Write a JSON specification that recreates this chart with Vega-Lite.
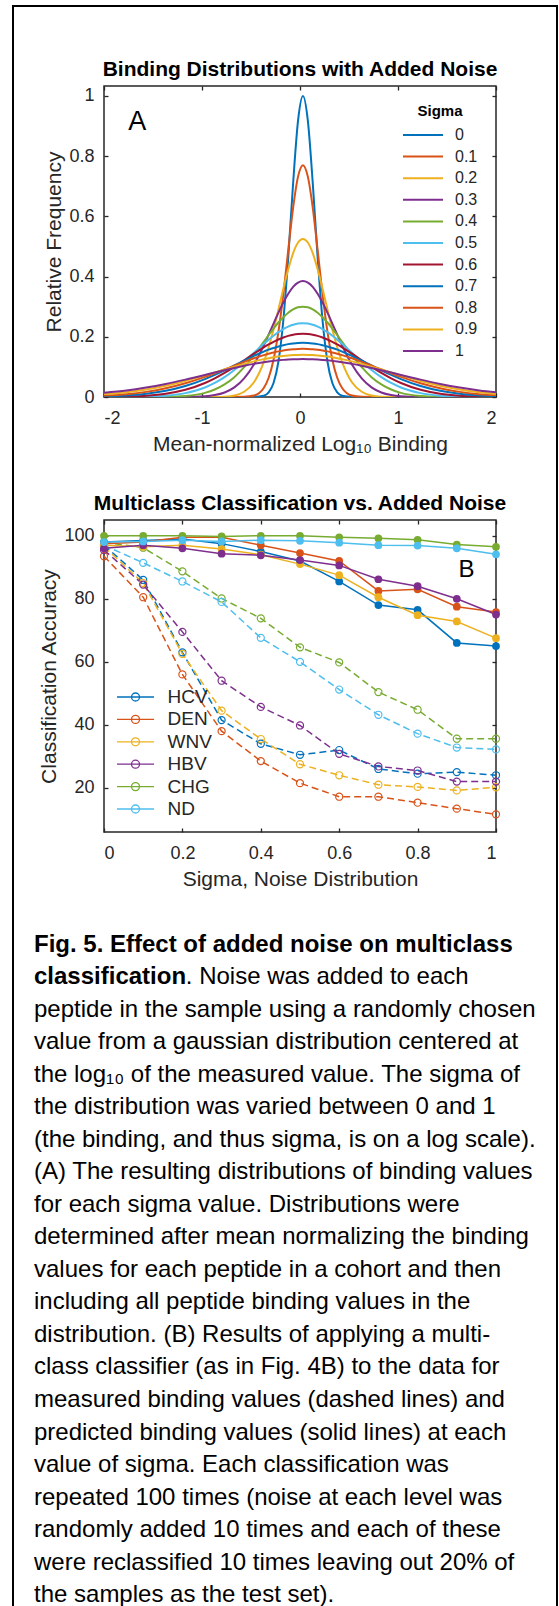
{
"$schema": "https://vega.github.io/schema/vega-lite/v6.json",
"background": "white",
"padding": {"left": 12, "top": 4, "right": 0, "bottom": 0},
"bounds": "flush",
"spacing": 123,
"resolve": {"scale": {"color": "independent"}, "legend": {"color": "independent"}},
"config": {
  "font": "Liberation Sans",
  "view": {"stroke": "#262626", "strokeWidth": 1.5},
  "axis": {"grid": false, "domain": false, "tickColor": "#262626", "tickSize": -4, "tickWidth": 1.3, "labelFont": "Liberation Sans", "labelFontSize": 18, "labelColor": "#262626", "titleFont": "Liberation Sans", "titleFontSize": 21, "titleFontWeight": "normal", "titleColor": "#262626"},
  "axisX": {"labelPadding": 16, "titlePadding": 6},
  "axisY": {"labelPadding": 14, "titlePadding": 4},
  "title": {"font": "Liberation Sans", "fontSize": 21, "fontWeight": "bold", "color": "#000000", "offset": 5},
  "legend": {"labelFont": "Liberation Sans", "titleFont": "Liberation Sans", "labelColor": "#262626", "titleColor": "#000000"}
},
"vconcat": [
{
  "width": 392, "height": 311,
  "title": "Binding Distributions with Added Noise",
  "data": {"values": [
    {"x":-2,"s0":0,"s1":0,"s2":0,"s3":0,"s4":0,"s5":0,"s6":0.0005,"s7":0.0021,"s8":0.0048,"s9":0.0096,"s10":0.0144},
    {"x":-1.77,"s0":0,"s1":0,"s2":0,"s3":0,"s4":0,"s5":0.0003,"s6":0.0016,"s7":0.005,"s8":0.0094,"s9":0.016,"s10":0.0217},
    {"x":-1.57,"s0":0,"s1":0,"s2":0,"s3":0,"s4":0.0001,"s5":0.0013,"s6":0.0044,"s7":0.0106,"s8":0.017,"s9":0.0252,"s10":0.0314},
    {"x":-1.37,"s0":0,"s1":0,"s2":0,"s3":0,"s4":0.0007,"s5":0.0044,"s6":0.0109,"s7":0.0206,"s8":0.0288,"s9":0.0377,"s10":0.0435},
    {"x":-1.17,"s0":0,"s1":0,"s2":0,"s3":0.0003,"s4":0.0036,"s5":0.0128,"s6":0.024,"s7":0.0365,"s8":0.0454,"s9":0.0534,"s10":0.0577},
    {"x":-0.97,"s0":0,"s1":0,"s2":0,"s3":0.0024,"s4":0.0138,"s5":0.0316,"s6":0.0465,"s7":0.0595,"s8":0.0667,"s9":0.0717,"s10":0.0732},
    {"x":-0.87,"s0":0,"s1":0,"s2":0.0002,"s3":0.0063,"s4":0.025,"s5":0.0466,"s6":0.062,"s7":0.0734,"s8":0.0788,"s9":0.0814,"s10":0.0812},
    {"x":-0.77,"s0":0,"s1":0,"s2":0.0012,"s3":0.015,"s4":0.042,"s5":0.066,"s6":0.08,"s7":0.0886,"s8":0.0914,"s9":0.0912,"s10":0.089},
    {"x":-0.67,"s0":0,"s1":0,"s2":0.0051,"s3":0.032,"s4":0.066,"s5":0.0898,"s6":0.1003,"s7":0.1046,"s8":0.1042,"s9":0.1008,"s10":0.0966},
    {"x":-0.57,"s0":0,"s1":0.0005,"s2":0.0175,"s3":0.062,"s4":0.099,"s5":0.1172,"s6":0.1221,"s7":0.1208,"s8":0.1168,"s9":0.11,"s10":0.1036},
    {"x":-0.47,"s0":0.0002,"s1":0.0048,"s2":0.049,"s3":0.108,"s4":0.139,"s5":0.1468,"s6":0.144,"s7":0.1365,"s8":0.1286,"s9":0.1184,"s10":0.11},
    {"x":-0.37,"s0":0.0042,"s1":0.03,"s2":0.116,"s3":0.171,"s4":0.183,"s5":0.1765,"s6":0.165,"s7":0.1508,"s8":0.1391,"s9":0.1258,"s10":0.1155},
    {"x":-0.32,"s0":0.0152,"s1":0.064,"s2":0.165,"s3":0.207,"s4":0.206,"s5":0.1906,"s6":0.1746,"s7":0.1572,"s8":0.1437,"s9":0.129,"s10":0.1179},
    {"x":-0.27,"s0":0.0463,"s1":0.124,"s2":0.224,"s3":0.244,"s4":0.227,"s5":0.2037,"s6":0.1834,"s7":0.1629,"s8":0.1479,"s9":0.1318,"s10":0.12},
    {"x":-0.22,"s0":0.118,"s1":0.217,"s2":0.291,"s3":0.28,"s4":0.2475,"s5":0.2156,"s6":0.1911,"s7":0.168,"s8":0.1515,"s9":0.1343,"s10":0.1218},
    {"x":-0.17,"s0":0.255,"s1":0.342,"s2":0.36,"s3":0.314,"s4":0.265,"s5":0.2257,"s6":0.1977,"s7":0.1722,"s8":0.1545,"s9":0.1363,"s10":0.1233},
    {"x":-0.12,"s0":0.4636,"s1":0.488,"s2":0.424,"s3":0.343,"s4":0.28,"s5":0.234,"s6":0.203,"s7":0.1756,"s8":0.1569,"s9":0.1379,"s10":0.1245},
    {"x":-0.07,"s0":0.711,"s1":0.629,"s2":0.478,"s3":0.366,"s4":0.291,"s5":0.24,"s6":0.2069,"s7":0.178,"s8":0.1586,"s9":0.1391,"s10":0.1253},
    {"x":-0.02,"s0":0.918,"s1":0.732,"s2":0.513,"s3":0.38,"s4":0.298,"s5":0.244,"s6":0.2092,"s7":0.1795,"s8":0.1596,"s9":0.1398,"s10":0.1258},
    {"x":0.03,"s0":1,"s1":0.77,"s2":0.525,"s3":0.385,"s4":0.3,"s5":0.245,"s6":0.21,"s7":0.18,"s8":0.16,"s9":0.14,"s10":0.126},
    {"x":0.08,"s0":0.918,"s1":0.732,"s2":0.513,"s3":0.38,"s4":0.298,"s5":0.244,"s6":0.2092,"s7":0.1795,"s8":0.1596,"s9":0.1398,"s10":0.1258},
    {"x":0.13,"s0":0.711,"s1":0.629,"s2":0.478,"s3":0.366,"s4":0.291,"s5":0.24,"s6":0.2069,"s7":0.178,"s8":0.1586,"s9":0.1391,"s10":0.1253},
    {"x":0.18,"s0":0.4636,"s1":0.488,"s2":0.424,"s3":0.343,"s4":0.28,"s5":0.234,"s6":0.203,"s7":0.1756,"s8":0.1569,"s9":0.1379,"s10":0.1245},
    {"x":0.23,"s0":0.255,"s1":0.342,"s2":0.36,"s3":0.314,"s4":0.265,"s5":0.2257,"s6":0.1977,"s7":0.1722,"s8":0.1545,"s9":0.1363,"s10":0.1233},
    {"x":0.28,"s0":0.118,"s1":0.217,"s2":0.291,"s3":0.28,"s4":0.2475,"s5":0.2156,"s6":0.1911,"s7":0.168,"s8":0.1515,"s9":0.1343,"s10":0.1218},
    {"x":0.33,"s0":0.0463,"s1":0.124,"s2":0.224,"s3":0.244,"s4":0.227,"s5":0.2037,"s6":0.1834,"s7":0.1629,"s8":0.1479,"s9":0.1318,"s10":0.12},
    {"x":0.38,"s0":0.0152,"s1":0.064,"s2":0.165,"s3":0.207,"s4":0.206,"s5":0.1906,"s6":0.1746,"s7":0.1572,"s8":0.1437,"s9":0.129,"s10":0.1179},
    {"x":0.43,"s0":0.0042,"s1":0.03,"s2":0.116,"s3":0.171,"s4":0.183,"s5":0.1765,"s6":0.165,"s7":0.1508,"s8":0.1391,"s9":0.1258,"s10":0.1155},
    {"x":0.53,"s0":0.0002,"s1":0.0048,"s2":0.049,"s3":0.108,"s4":0.139,"s5":0.1468,"s6":0.144,"s7":0.1365,"s8":0.1286,"s9":0.1184,"s10":0.11},
    {"x":0.63,"s0":0,"s1":0.0005,"s2":0.0175,"s3":0.062,"s4":0.099,"s5":0.1172,"s6":0.1221,"s7":0.1208,"s8":0.1168,"s9":0.11,"s10":0.1036},
    {"x":0.73,"s0":0,"s1":0,"s2":0.0051,"s3":0.032,"s4":0.066,"s5":0.0898,"s6":0.1003,"s7":0.1046,"s8":0.1042,"s9":0.1008,"s10":0.0966},
    {"x":0.83,"s0":0,"s1":0,"s2":0.0012,"s3":0.015,"s4":0.042,"s5":0.066,"s6":0.08,"s7":0.0886,"s8":0.0914,"s9":0.0912,"s10":0.089},
    {"x":0.93,"s0":0,"s1":0,"s2":0.0002,"s3":0.0063,"s4":0.025,"s5":0.0466,"s6":0.062,"s7":0.0734,"s8":0.0788,"s9":0.0814,"s10":0.0812},
    {"x":1.03,"s0":0,"s1":0,"s2":0,"s3":0.0024,"s4":0.0138,"s5":0.0316,"s6":0.0465,"s7":0.0595,"s8":0.0667,"s9":0.0717,"s10":0.0732},
    {"x":1.23,"s0":0,"s1":0,"s2":0,"s3":0.0003,"s4":0.0036,"s5":0.0128,"s6":0.024,"s7":0.0365,"s8":0.0454,"s9":0.0534,"s10":0.0577},
    {"x":1.43,"s0":0,"s1":0,"s2":0,"s3":0,"s4":0.0007,"s5":0.0044,"s6":0.0109,"s7":0.0206,"s8":0.0288,"s9":0.0377,"s10":0.0435},
    {"x":1.63,"s0":0,"s1":0,"s2":0,"s3":0,"s4":0.0001,"s5":0.0013,"s6":0.0044,"s7":0.0106,"s8":0.017,"s9":0.0252,"s10":0.0314},
    {"x":1.83,"s0":0,"s1":0,"s2":0,"s3":0,"s4":0,"s5":0.0003,"s6":0.0016,"s7":0.005,"s8":0.0094,"s9":0.016,"s10":0.0217},
    {"x":2,"s0":0,"s1":0,"s2":0,"s3":0,"s4":0,"s5":0,"s6":0.0006,"s7":0.0024,"s8":0.0054,"s9":0.0104,"s10":0.0154}
  ]},
  "transform": [{"fold": ["s0","s1","s2","s3","s4","s5","s6","s7","s8","s9","s10"], "as": ["sigma","y"]}],
  "layer": [
    {
      "mark": {"type": "line", "strokeWidth": 2, "interpolate": "monotone", "clip": true},
      "encoding": {
        "x": {"field": "x", "type": "quantitative", "scale": {"domain": [-2, 2], "nice": false, "zero": false},
              "axis": {"values": [-2, -1, 0, 1, 2], "labelExpr": "'' + datum.value", "title": "Mean-normalized Log₁₀ Binding"}},
        "y": {"field": "y", "type": "quantitative", "scale": {"domain": [0, 1.033], "nice": false, "zero": false},
              "axis": {"values": [0, 0.2, 0.4, 0.6, 0.8, 1], "labelExpr": "'' + datum.value", "title": "Relative Frequency"}},
        "color": {"field": "sigma", "type": "nominal",
          "scale": {"domain": ["s0","s1","s2","s3","s4","s5","s6","s7","s8","s9","s10"],
                    "range": ["#0072BD","#D95319","#EDB120","#7E2F8E","#77AC30","#4DBEEE","#A2142F","#0072BD","#D95319","#EDB120","#7E2F8E"]},
          "legend": {"orient": "top-right", "offset": 18, "padding": 0, "title": "Sigma", "titleFontSize": 15, "titleFontWeight": "bold", "titleAnchor": "middle", "titlePadding": 5,
                     "labelFontSize": 16, "symbolType": "M-2,0H2", "symbolSize": 400, "symbolStrokeWidth": 2, "symbolOffset": 9, "labelOffset": 21, "rowPadding": 2.6,
                     "labelExpr": "datum.label == 's0' ? '\u2007\u20080' : datum.label == 's10' ? '\u2007\u20081' : '0.' + substring(datum.label, 1)"}}
      }
    },
    {
      "mark": {"type": "point", "opacity": 0},
      "encoding": {
        "x": {"field": "x", "type": "quantitative", "axis": {"orient": "top", "values": [-2, -1, 0, 1, 2], "labels": false, "title": null}},
        "y": {"field": "y", "type": "quantitative", "axis": {"orient": "right", "values": [0, 0.2, 0.4, 0.6, 0.8, 1], "labels": false, "title": null}}
      }
    },
    {
      "data": {"values": [{"lab": "A"}]},
      "mark": {"type": "text", "fontSize": 27, "color": "#000000", "align": "center", "baseline": "middle"},
      "encoding": {
        "x": {"datum": -1.66, "type": "quantitative", "axis": null},
        "y": {"datum": 0.913, "type": "quantitative", "axis": null},
        "text": {"field": "lab"}
      }
    }
  ],
  "resolve": {"axis": {"x": "independent", "y": "independent"}}
},
{
  "width": 392, "height": 312,
  "title": "Multiclass Classification vs. Added Noise",
  "data": {"values": [
    {"v":"HCV","m":"p","x":0,"y":98},{"v":"HCV","m":"p","x":0.1,"y":98.5},{"v":"HCV","m":"p","x":0.2,"y":99},{"v":"HCV","m":"p","x":0.3,"y":97.5},{"v":"HCV","m":"p","x":0.4,"y":95},{"v":"HCV","m":"p","x":0.5,"y":92},{"v":"HCV","m":"p","x":0.6,"y":85.5},{"v":"HCV","m":"p","x":0.7,"y":78},{"v":"HCV","m":"p","x":0.8,"y":76.5},{"v":"HCV","m":"p","x":0.9,"y":66},{"v":"HCV","m":"p","x":1,"y":65},
    {"v":"DEN","m":"p","x":0,"y":97.5},{"v":"DEN","m":"p","x":0.1,"y":98},{"v":"DEN","m":"p","x":0.2,"y":99.5},{"v":"DEN","m":"p","x":0.3,"y":99.5},{"v":"DEN","m":"p","x":0.4,"y":97},{"v":"DEN","m":"p","x":0.5,"y":94.5},{"v":"DEN","m":"p","x":0.6,"y":92},{"v":"DEN","m":"p","x":0.7,"y":82.5},{"v":"DEN","m":"p","x":0.8,"y":83},{"v":"DEN","m":"p","x":0.9,"y":77.5},{"v":"DEN","m":"p","x":1,"y":75.8},
    {"v":"WNV","m":"p","x":0,"y":97},{"v":"WNV","m":"p","x":0.1,"y":96.5},{"v":"WNV","m":"p","x":0.2,"y":97},{"v":"WNV","m":"p","x":0.3,"y":95.8},{"v":"WNV","m":"p","x":0.4,"y":94},{"v":"WNV","m":"p","x":0.5,"y":91},{"v":"WNV","m":"p","x":0.6,"y":87.5},{"v":"WNV","m":"p","x":0.7,"y":80.5},{"v":"WNV","m":"p","x":0.8,"y":74.8},{"v":"WNV","m":"p","x":0.9,"y":72.8},{"v":"WNV","m":"p","x":1,"y":67.5},
    {"v":"HBV","m":"p","x":0,"y":96},{"v":"HBV","m":"p","x":0.1,"y":97},{"v":"HBV","m":"p","x":0.2,"y":96},{"v":"HBV","m":"p","x":0.3,"y":94.3},{"v":"HBV","m":"p","x":0.4,"y":93.8},{"v":"HBV","m":"p","x":0.5,"y":92.3},{"v":"HBV","m":"p","x":0.6,"y":90.6},{"v":"HBV","m":"p","x":0.7,"y":86.2},{"v":"HBV","m":"p","x":0.8,"y":84},{"v":"HBV","m":"p","x":0.9,"y":80},{"v":"HBV","m":"p","x":1,"y":75},
    {"v":"CHG","m":"p","x":0,"y":100},{"v":"CHG","m":"p","x":0.1,"y":100},{"v":"CHG","m":"p","x":0.2,"y":100},{"v":"CHG","m":"p","x":0.3,"y":99.8},{"v":"CHG","m":"p","x":0.4,"y":100},{"v":"CHG","m":"p","x":0.5,"y":100},{"v":"CHG","m":"p","x":0.6,"y":99.5},{"v":"CHG","m":"p","x":0.7,"y":99.2},{"v":"CHG","m":"p","x":0.8,"y":98.7},{"v":"CHG","m":"p","x":0.9,"y":97.2},{"v":"CHG","m":"p","x":1,"y":96.5},
    {"v":"ND","m":"p","x":0,"y":98},{"v":"ND","m":"p","x":0.1,"y":98.2},{"v":"ND","m":"p","x":0.2,"y":98.6},{"v":"ND","m":"p","x":0.3,"y":98.2},{"v":"ND","m":"p","x":0.4,"y":98.6},{"v":"ND","m":"p","x":0.5,"y":98.4},{"v":"ND","m":"p","x":0.6,"y":97.8},{"v":"ND","m":"p","x":0.7,"y":97},{"v":"ND","m":"p","x":0.8,"y":96.9},{"v":"ND","m":"p","x":0.9,"y":96},{"v":"ND","m":"p","x":1,"y":94.1},
    {"v":"HCV","m":"d","x":0,"y":97},{"v":"HCV","m":"d","x":0.1,"y":86},{"v":"HCV","m":"d","x":0.2,"y":63},{"v":"HCV","m":"d","x":0.3,"y":41.5},{"v":"HCV","m":"d","x":0.4,"y":34},{"v":"HCV","m":"d","x":0.5,"y":30.5},{"v":"HCV","m":"d","x":0.6,"y":32},{"v":"HCV","m":"d","x":0.7,"y":26},{"v":"HCV","m":"d","x":0.8,"y":24.5},{"v":"HCV","m":"d","x":0.9,"y":25},{"v":"HCV","m":"d","x":1,"y":24},
    {"v":"DEN","m":"d","x":0,"y":93.5},{"v":"DEN","m":"d","x":0.1,"y":80.5},{"v":"DEN","m":"d","x":0.2,"y":56},{"v":"DEN","m":"d","x":0.3,"y":38},{"v":"DEN","m":"d","x":0.4,"y":28.5},{"v":"DEN","m":"d","x":0.5,"y":21.5},{"v":"DEN","m":"d","x":0.6,"y":17.2},{"v":"DEN","m":"d","x":0.7,"y":17.2},{"v":"DEN","m":"d","x":0.8,"y":15.3},{"v":"DEN","m":"d","x":0.9,"y":13.4},{"v":"DEN","m":"d","x":1,"y":11.6},
    {"v":"WNV","m":"d","x":0,"y":96.5},{"v":"WNV","m":"d","x":0.1,"y":85},{"v":"WNV","m":"d","x":0.2,"y":62.5},{"v":"WNV","m":"d","x":0.3,"y":44.5},{"v":"WNV","m":"d","x":0.4,"y":35.5},{"v":"WNV","m":"d","x":0.5,"y":27.5},{"v":"WNV","m":"d","x":0.6,"y":24},{"v":"WNV","m":"d","x":0.7,"y":21},{"v":"WNV","m":"d","x":0.8,"y":20.3},{"v":"WNV","m":"d","x":0.9,"y":19.2},{"v":"WNV","m":"d","x":1,"y":20.2},
    {"v":"HBV","m":"d","x":0,"y":95.5},{"v":"HBV","m":"d","x":0.1,"y":84.5},{"v":"HBV","m":"d","x":0.2,"y":69.5},{"v":"HBV","m":"d","x":0.3,"y":54},{"v":"HBV","m":"d","x":0.4,"y":45.7},{"v":"HBV","m":"d","x":0.5,"y":39.8},{"v":"HBV","m":"d","x":0.6,"y":30.8},{"v":"HBV","m":"d","x":0.7,"y":26.8},{"v":"HBV","m":"d","x":0.8,"y":25.5},{"v":"HBV","m":"d","x":0.9,"y":22},{"v":"HBV","m":"d","x":1,"y":22},
    {"v":"CHG","m":"d","x":0,"y":98},{"v":"CHG","m":"d","x":0.1,"y":96.2},{"v":"CHG","m":"d","x":0.2,"y":88.7},{"v":"CHG","m":"d","x":0.3,"y":80.1},{"v":"CHG","m":"d","x":0.4,"y":73.8},{"v":"CHG","m":"d","x":0.5,"y":64.6},{"v":"CHG","m":"d","x":0.6,"y":59.8},{"v":"CHG","m":"d","x":0.7,"y":50.4},{"v":"CHG","m":"d","x":0.8,"y":44.8},{"v":"CHG","m":"d","x":0.9,"y":35.6},{"v":"CHG","m":"d","x":1,"y":35.6},
    {"v":"ND","m":"d","x":0,"y":97},{"v":"ND","m":"d","x":0.1,"y":91.4},{"v":"ND","m":"d","x":0.2,"y":85.5},{"v":"ND","m":"d","x":0.3,"y":79},{"v":"ND","m":"d","x":0.4,"y":67.6},{"v":"ND","m":"d","x":0.5,"y":60},{"v":"ND","m":"d","x":0.6,"y":51.2},{"v":"ND","m":"d","x":0.7,"y":43.2},{"v":"ND","m":"d","x":0.8,"y":37.2},{"v":"ND","m":"d","x":0.9,"y":32.8},{"v":"ND","m":"d","x":1,"y":32.2}
  ]},
  "layer": [
    {
      "transform": [{"filter": "datum.m == 'd'"}],
      "mark": {"type": "line", "strokeWidth": 1.5, "strokeDash": [7, 4]},
      "encoding": {
        "x": {"field": "x", "type": "quantitative", "scale": {"domain": [0, 1], "nice": false, "zero": false},
              "axis": {"values": [0, 0.2, 0.4, 0.6, 0.8, 1], "labelExpr": "'' + datum.value", "title": "Sigma, Noise Distribution"}},
        "y": {"field": "y", "type": "quantitative", "scale": {"domain": [6, 105], "nice": false, "zero": false},
              "axis": {"values": [20, 40, 60, 80, 100], "labelExpr": "'' + datum.value", "title": "Classification Accuracy"}},
        "stroke": {"field": "v", "type": "nominal",
          "scale": {"domain": ["HCV","DEN","WNV","HBV","CHG","ND"], "range": ["#0072BD","#D95319","#EDB120","#7E2F8E","#77AC30","#4DBEEE"]},
          "legend": null}
      }
    },
    {
      "transform": [{"filter": "datum.m == 'd'"}],
      "mark": {"type": "point", "filled": false, "size": 50, "strokeWidth": 1.2, "opacity": 1},
      "encoding": {
        "x": {"field": "x", "type": "quantitative", "axis": null},
        "y": {"field": "y", "type": "quantitative", "axis": null},
        "stroke": {"field": "v", "type": "nominal", "legend": null}
      }
    },
    {
      "transform": [{"filter": "datum.m == 'p'"}],
      "mark": {"type": "line", "strokeWidth": 1.5},
      "encoding": {
        "x": {"field": "x", "type": "quantitative", "axis": null},
        "y": {"field": "y", "type": "quantitative", "axis": null},
        "color": {"field": "v", "type": "nominal",
          "scale": {"domain": ["HCV","DEN","WNV","HBV","CHG","ND"], "range": ["#0072BD","#D95319","#EDB120","#7E2F8E","#77AC30","#4DBEEE"]},
          "legend": {"orient": "bottom-left", "offset": 13, "padding": 0, "title": null, "labelFontSize": 19,
                     "symbolType": "M-1.85,0H1.85M0.4,0A0.4,0.4,0,1,1,-0.4,0A0.4,0.4,0,1,1,0.4,0",
                     "symbolSize": 400, "symbolStrokeWidth": 1.3, "symbolOffset": 7.5, "labelOffset": 21, "rowPadding": 1.4, "symbolFillColor": "transparent"}}
      }
    },
    {
      "transform": [{"filter": "datum.m == 'p'"}],
      "mark": {"type": "point", "filled": true, "size": 60, "opacity": 1, "strokeWidth": 0},
      "encoding": {
        "x": {"field": "x", "type": "quantitative", "axis": null},
        "y": {"field": "y", "type": "quantitative", "axis": null},
        "fill": {"field": "v", "type": "nominal",
          "scale": {"domain": ["HCV","DEN","WNV","HBV","CHG","ND"], "range": ["#0072BD","#D95319","#EDB120","#7E2F8E","#77AC30","#4DBEEE"]},
          "legend": null}
      }
    },
    {
      "mark": {"type": "point", "opacity": 0},
      "encoding": {
        "x": {"field": "x", "type": "quantitative", "axis": {"orient": "top", "values": [0, 0.2, 0.4, 0.6, 0.8, 1], "labels": false, "title": null}},
        "y": {"field": "y", "type": "quantitative", "axis": {"orient": "right", "values": [20, 40, 60, 80, 100], "labels": false, "title": null}}
      }
    },
    {
      "data": {"values": [{"lab": "B"}]},
      "mark": {"type": "text", "fontSize": 24, "color": "#000000", "align": "center", "baseline": "middle"},
      "encoding": {
        "x": {"datum": 0.925, "type": "quantitative", "axis": null},
        "y": {"datum": 89.1, "type": "quantitative", "axis": null},
        "text": {"field": "lab"}
      }
    }
  ],
  "resolve": {"axis": {"x": "independent", "y": "independent"}}
},
{
  "width": 392, "height": 640,
  "view": {"stroke": null},
  "data": {"values": [
    {"n": 1, "w": "b", "t": "Fig. 5. Effect of added noise on multiclass"},
    {"n": 2, "w": "b", "t": "classification"},
    {"n": 2, "w": "c", "t": ". Noise was added to each"},
    {"n": 3, "w": "r", "t": "peptide in the sample using a randomly chosen"},
    {"n": 4, "w": "r", "t": "value from a gaussian distribution centered at"},
    {"n": 5, "w": "r", "t": "the log₁₀ of the measured value. The sigma of"},
    {"n": 6, "w": "r", "t": "the distribution was varied between 0 and 1"},
    {"n": 7, "w": "r", "t": "(the binding, and thus sigma, is on a log scale)."},
    {"n": 8, "w": "r", "t": "(A) The resulting distributions of binding values"},
    {"n": 9, "w": "r", "t": "for each sigma value. Distributions were"},
    {"n": 10, "w": "r", "t": "determined after mean normalizing the binding"},
    {"n": 11, "w": "r", "t": "values for each peptide in a cohort and then"},
    {"n": 12, "w": "r", "t": "including all peptide binding values in the"},
    {"n": 13, "w": "r", "t": "distribution. (B) Results of applying a multi-"},
    {"n": 14, "w": "r", "t": "class classifier (as in Fig. 4B) to the data for"},
    {"n": 15, "w": "r", "t": "measured binding values (dashed lines) and"},
    {"n": 16, "w": "r", "t": "predicted binding values (solid lines) at each"},
    {"n": 17, "w": "r", "t": "value of sigma. Each classification was"},
    {"n": 18, "w": "r", "t": "repeated 100 times (noise at each level was"},
    {"n": 19, "w": "r", "t": "randomly added 10 times and each of these"},
    {"n": 20, "w": "r", "t": "were reclassified 10 times leaving out 20% of"},
    {"n": 21, "w": "r", "t": "the samples as the test set)."}
  ]},
  "layer": [
    {
      "data": {"values": [{"f": 1}]},
      "mark": {"type": "rect", "filled": false, "color": "#000000", "strokeWidth": 2},
      "encoding": {
        "x": {"datum": -0.23214, "type": "quantitative", "scale": {"domain": [0, 1], "nice": false, "zero": false}, "axis": null},
        "x2": {"datum": 1.15561},
        "y": {"datum": -27.8923, "type": "quantitative", "scale": {"domain": [1.3077, 21.0], "nice": false, "zero": false, "reverse": true}, "axis": null},
        "y2": {"datum": 21.954}
      }
    },
    {
      "transform": [{"filter": "datum.w == 'b'"}],
      "mark": {"type": "text", "align": "left", "baseline": "middle", "fontSize": 24, "fontWeight": "bold", "color": "#000000"},
      "encoding": {
        "x": {"datum": -0.17857, "type": "quantitative", "axis": null},
        "y": {"field": "n", "type": "quantitative", "axis": null},
        "text": {"field": "t"}
      }
    },
    {
      "transform": [{"filter": "datum.w == 'r'"}],
      "mark": {"type": "text", "align": "left", "baseline": "middle", "fontSize": 24, "color": "#000000"},
      "encoding": {
        "x": {"datum": -0.17857, "type": "quantitative", "axis": null},
        "y": {"field": "n", "type": "quantitative", "axis": null},
        "text": {"field": "t"}
      }
    },
    {
      "transform": [{"filter": "datum.w == 'c'"}],
      "mark": {"type": "text", "align": "left", "baseline": "middle", "fontSize": 24, "color": "#000000", "dx": 151.8},
      "encoding": {
        "x": {"datum": -0.17857, "type": "quantitative", "axis": null},
        "y": {"field": "n", "type": "quantitative", "axis": null},
        "text": {"field": "t"}
      }
    }
  ]
}
]
}
